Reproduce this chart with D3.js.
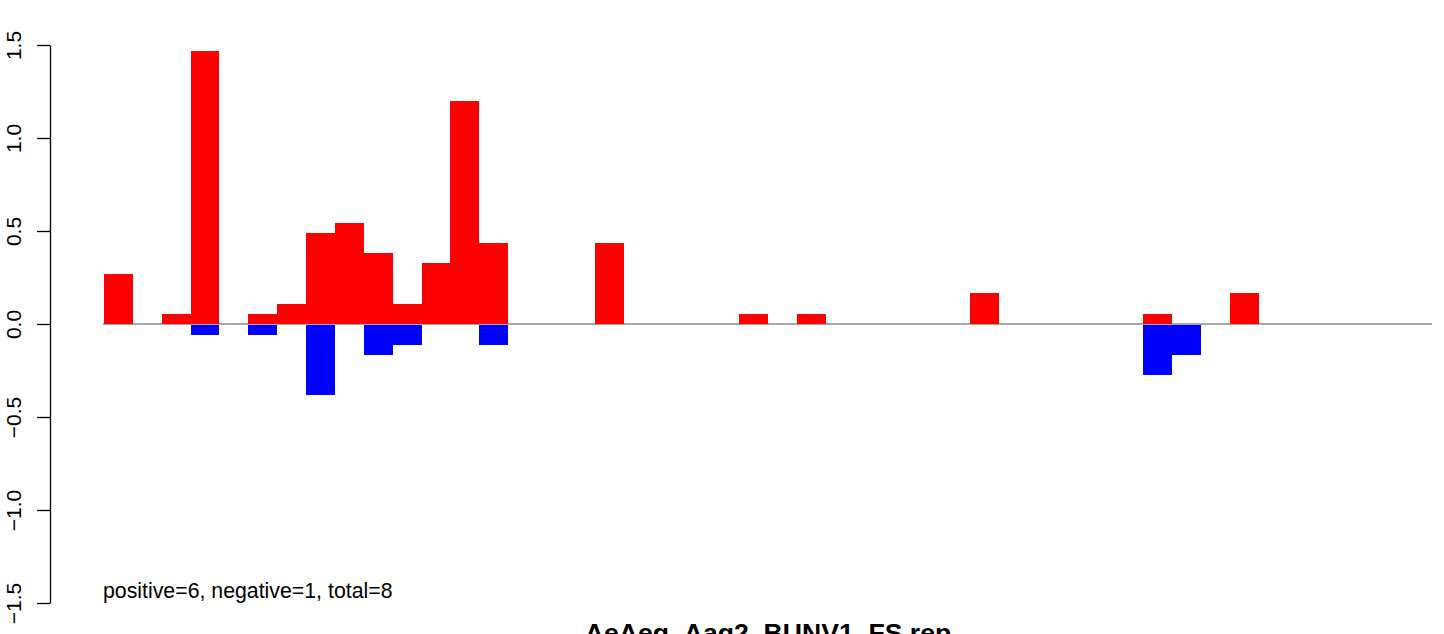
<!DOCTYPE html>
<html>
<head>
<meta charset="utf-8">
<script src="https://cdn.jsdelivr.net/npm/d3@7"></script>
<style>
  html, body { margin: 0; padding: 0; background: #ffffff; }
  svg { display: block; }
  text { font-family: "Liberation Sans", Arial, Helvetica, sans-serif; }
</style>
</head>
<body>
<svg id="chart" width="1444" height="634"></svg>
<script>
// ---- data ----
const bins = d3.range(1, 47); // 46 bins
const positiveValues = [0.27, 0, 0.055, 1.47, 0, 0.055, 0.11, 0.49, 0.545, 0.38, 0.11, 0.33, 1.2, 0.435,
  0, 0, 0, 0.435, 0, 0, 0, 0, 0.055, 0, 0.055, 0, 0, 0, 0, 0, 0.165, 0, 0, 0, 0, 0, 0.055, 0, 0, 0.165,
  0, 0, 0, 0, 0, 0];
const negativeValues = [0, 0, 0, -0.055, 0, -0.055, 0, -0.38, 0, -0.165, -0.11, 0, 0, -0.11,
  0, 0, 0, 0, 0, 0, 0, 0, 0, 0, 0, 0, 0, 0, 0, 0, 0, 0, 0, 0, 0, 0, -0.27, -0.165, 0, 0,
  0, 0, 0, 0, 0, 0];
const yTicks = [-1.5, -1.0, -0.5, 0.0, 0.5, 1.0, 1.5];
const summaryText = "positive=6, negative=1, total=8";
const titleText = "AeAeg_Aag2_BUNV1_FS.rep";

// ---- layout ----
const svg = d3.select("#chart");
const x = d3.scaleBand().domain(bins).range([104, 1432]).padding(0);
const y = d3.scaleLinear().domain([-1.5, 1.5]).range([603, 45]);

// zero line (under the bars)
svg.append("line")
  .attr("x1", x.range()[0] - 1).attr("x2", x.range()[1])
  .attr("y1", y(0)).attr("y2", y(0))
  .attr("stroke", "#a6a6a6").attr("stroke-width", 2);

// positive bars
svg.append("g").selectAll("rect")
  .data(bins.map((b, i) => ({ b, v: positiveValues[i] })).filter(d => d.v > 0))
  .join("rect")
  .attr("x", d => x(d.b))
  .attr("width", x.bandwidth())
  .attr("y", d => y(d.v))
  .attr("height", d => y(0) - y(d.v))
  .attr("fill", "#ff0000")
  .attr("shape-rendering", "crispEdges");

// negative bars
svg.append("g").selectAll("rect")
  .data(bins.map((b, i) => ({ b, v: negativeValues[i] })).filter(d => d.v < 0))
  .join("rect")
  .attr("x", d => x(d.b))
  .attr("width", x.bandwidth())
  .attr("y", y(0) + 0.5)
  .attr("height", d => y(d.v) - y(0))
  .attr("fill", "#0000ff")
  .attr("shape-rendering", "crispEdges");

// y axis
const fmt = v => (v < 0 ? "\u2212" : "") + Math.abs(v).toFixed(1);
const axis = svg.append("g")
  .attr("transform", "translate(50,0)")
  .call(d3.axisLeft(y).tickValues(yTicks).tickFormat(fmt).tickSize(13).tickSizeOuter(0));
axis.select(".domain").attr("stroke", "#000").attr("stroke-width", 1.3);
axis.selectAll(".tick line").attr("stroke", "#000").attr("stroke-width", 1.3);
axis.selectAll(".tick text")
  .attr("transform", "rotate(-90)")
  .attr("x", 0).attr("y", -29).attr("dy", null)
  .attr("text-anchor", "middle")
  .attr("fill", "#000")
  .style("font-size", "21px")
  .style("font-family", "'Liberation Sans', Arial, Helvetica, sans-serif");

// summary text
svg.append("text")
  .attr("x", 103).attr("y", 598)
  .style("font-size", "21.3px")
  .attr("fill", "#000")
  .text(summaryText);

// title (partly cut off at bottom, as in the reference)
svg.append("text")
  .attr("x", (x.range()[0] + x.range()[1]) / 2).attr("y", 642)
  .attr("text-anchor", "middle")
  .style("font-size", "26.6px").style("font-weight", "bold")
  .attr("fill", "#000")
  .text(titleText);
</script>
</body>
</html>
